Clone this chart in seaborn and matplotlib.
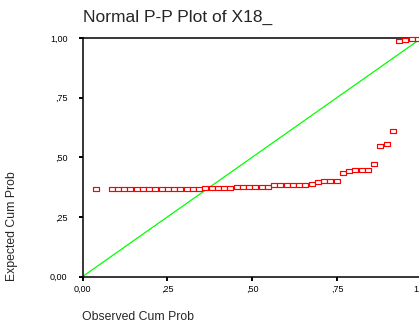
import matplotlib
matplotlib.use("Agg")
import matplotlib.pyplot as plt
import seaborn as sns
import pandas as pd

# Observed cumulative probability (x) and expected cumulative probability (y)
observed = [0.040, 0.0853, 0.1037, 0.1221, 0.1406, 0.1590, 0.1774, 0.1959, 0.2143,
            0.2327, 0.2512, 0.2696, 0.2880, 0.3065, 0.3249, 0.3433, 0.3618, 0.3802,
            0.3986, 0.4171, 0.4355, 0.4539, 0.4724, 0.4908, 0.5092, 0.5276, 0.5461,
            0.5645, 0.5829, 0.6014, 0.6198, 0.6382, 0.6567, 0.6751, 0.6935, 0.7120,
            0.7304, 0.7488, 0.7673, 0.7857, 0.8041, 0.8226, 0.8410, 0.8594, 0.8779,
            0.8963, 0.9147, 0.9332, 0.9516, 0.9700, 0.9885]
expected = [0.367, 0.367, 0.367, 0.367, 0.367, 0.367, 0.367, 0.367, 0.367,
            0.367, 0.367, 0.367, 0.367, 0.367, 0.367, 0.367, 0.370, 0.370,
            0.370, 0.370, 0.370, 0.374, 0.374, 0.374, 0.3765, 0.3765, 0.3765,
            0.382, 0.382, 0.382, 0.382, 0.385, 0.385, 0.388, 0.396, 0.400,
            0.400, 0.400, 0.433, 0.441, 0.445, 0.448, 0.448, 0.473, 0.547,
            0.557, 0.609, 0.986, 0.990, 0.997, 0.997]
ref_x = [0.0, 1.0]
ref_y = [0.0, 1.0]
tick_vals = [0.0, 0.25, 0.5, 0.75, 1.0]
tick_labels = ["0,00", ",25", ",50", ",75", "1,00"]

title = "Normal P-P Plot of X18_"
xlabel = "Observed Cum Prob"
ylabel = "Expected Cum Prob"

sns.set_style("white")
plt.rcParams["font.family"] = ["Liberation Sans", "DejaVu Sans"]

fig = plt.figure(figsize=(4.19, 3.29), dpi=100)
W, H = 419, 329
x0, x1 = 82.7, 421.7
y0, y1 = 276.5, 38.0
ax = fig.add_axes([x0 / W, (H - y0) / H, (x1 - x0) / W, (y0 - y1) / H])

df_pts = pd.DataFrame({"obs": observed, "exp": expected})
df_ref = pd.DataFrame({"x": ref_x, "y": ref_y})

sns.lineplot(data=df_ref, x="x", y="y", ax=ax, color="#00ff00", linewidth=0.9,
             zorder=2)
rect = [(-1.5, -1), (1.5, -1), (1.5, 1), (-1.5, 1), (-1.5, -1)]
sns.scatterplot(data=df_pts, x="obs", y="exp", ax=ax, marker=rect, s=14,
                facecolor="white", edgecolor="#ff0000", linewidth=0.85,
                zorder=3, clip_on=False)

ax.set_xlim(0, 1)
ax.set_ylim(0, 1)
ax.set_xticks(tick_vals)
ax.set_xticklabels(tick_labels)
ax.set_yticks(tick_vals)
ax.set_yticklabels(tick_labels)
ax.tick_params(axis="both", direction="out", length=3, width=1.4, colors="black",
               labelsize=6.5, left=True, bottom=True)
ax.tick_params(axis="y", pad=8)
ax.tick_params(axis="x", pad=3)
for sp in ax.spines.values():
    sp.set_visible(True)
    sp.set_color("black")
    sp.set_linewidth(1.1)
ax.set_xlabel("")
ax.set_ylabel("")

fig.text(83 / W, 1 - 17 / H, title, fontsize=12.5, ha="left", va="center")
fig.text(82 / W, 1 - 316.5 / H, xlabel, fontsize=8.8, ha="left", va="center")
fig.text(12 / W, 1 - 226 / H, ylabel, fontsize=8.8, ha="center", va="center",
         rotation=90)

fig.savefig("out.png", dpi=100)
